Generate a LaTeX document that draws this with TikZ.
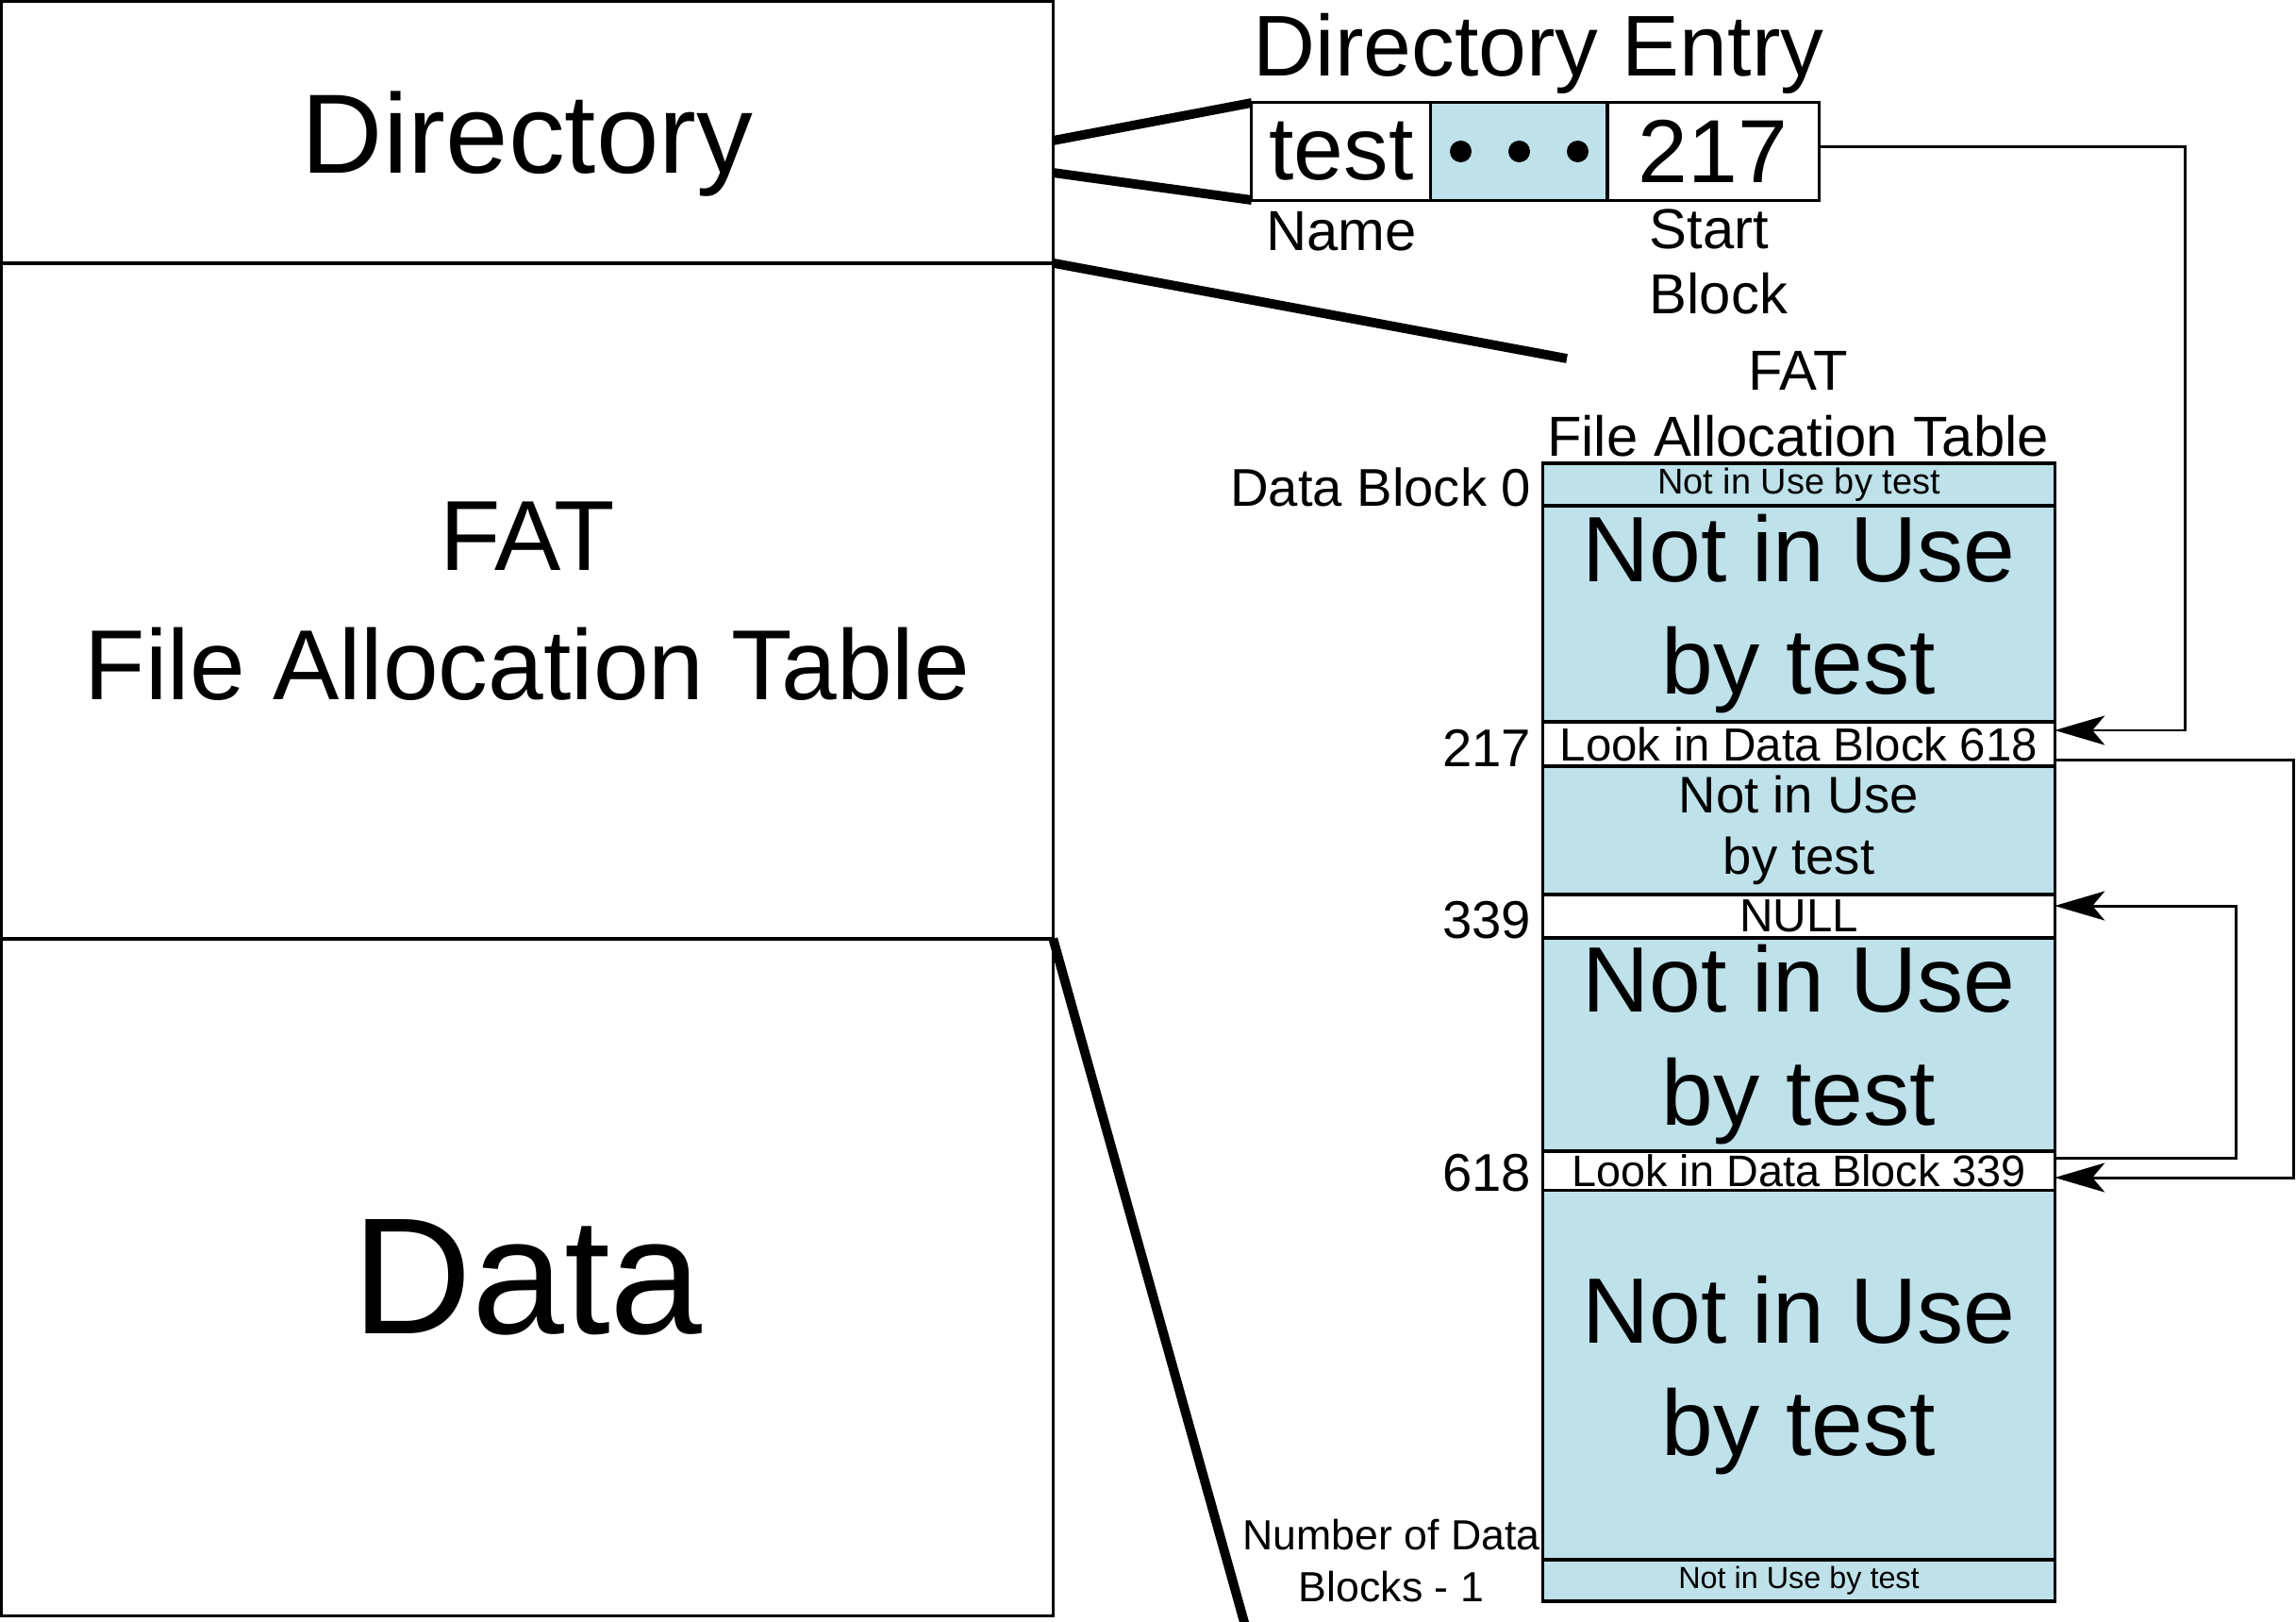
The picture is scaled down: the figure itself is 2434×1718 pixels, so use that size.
\documentclass[tikz,border=0pt]{standalone}
\usepackage{fontspec}
\setmainfont{Liberation Sans}
\usetikzlibrary{arrows.meta}
\definecolor{unused}{RGB}{190,225,234}

\begin{document}
\begin{tikzpicture}[x=0.01cm, y=-0.01cm,
		part/.style = {draw, line width=0.85pt, minimum width=11.14cm, inner sep=0pt, outer sep=0pt},
		cell/.style = {draw, line width=0.85pt, minimum height=1.03cm, inner sep=0pt, outer sep=0pt, font=\fontsize{27}{32}\selectfont},
		fatrow/.style = {draw, line width=0.9pt, minimum width=5.42cm, inner sep=0pt, outer sep=0pt},
		free/.style = {fatrow, fill=unused},
		used/.style = {fatrow, fill=white},
		big/.style = {align=center, font=\fontsize{28}{34}\selectfont},
		side/.style = {inner sep=0pt, font=\fontsize{17}{19.6}\selectfont},
		num/.style = {inner sep=0pt, anchor=base east, font=\fontsize{16}{19}\selectfont},
		zoomline/.style = {line width=2.8pt},
		flow/.style = {line width=0.85pt, -{Stealth[length=5.3mm, width=3.1mm, inset=1.3mm]}}]
		\useasboundingbox (0,0) rectangle (2434,1718);
		% disk layout
		\node[part, minimum height=2.77cm, text depth=0pt, font=\fontsize{34}{40}\selectfont] (dir) at (559,140.5) {Directory};
		\node[part, minimum height=7.16cm, align=center, font=\fontsize{30}{39}\selectfont] (fat) at (559,637) {FAT\\File Allocation Table};
		\node[part, minimum height=7.17cm, font=\fontsize{50}{60}\selectfont] (data) at (559,1353.5) {Data};
		% directory entry
		\node[side, anchor=base, font=\fontsize{26}{31}\selectfont] (entry) at (1631,80) {Directory Entry};
		\node[cell, minimum width=1.90cm] (name) at (1422,160.5) {test};
		\node[cell, minimum width=1.87cm, fill=unused] (dots) at (1610.5,160.5) {};
		\node[cell, minimum width=2.24cm] (startblk) at (1816,160.5) {217};
		\fill (dots.center) circle[radius=0.115cm] ++(-62,0) circle[radius=0.115cm] ++(124,0) circle[radius=0.115cm];
		\node[side, anchor=base] (namelbl) at (1422,265) {Name};
		\node[side, anchor=west, align=left] (startlbl) at (1748,277) {Start\\Block};
		\draw[zoomline] (dir.east) ++(0,8.5) -- (name.north west);
		\draw[zoomline] (dir.east) ++(0,42.5) -- (name.south west);
		% file allocation table
		\node[side, align=center, font=\fontsize{17}{19.9}\selectfont] (fattitle) at (1906,428) {FAT\\File Allocation Table};
		\draw[zoomline] (fat.north east) -- (1661,380);
		\node[free, minimum height=0.45cm, label={[font=\fontsize{10.8}{13}\selectfont]center:Not in Use by test}] (r0) at (1907,513.5) {};
		\node[free, minimum height=2.29cm, label={[big]center:{Not in Use\\by test}}] (r1) at (1907,650.5) {};
		\node[used, minimum height=0.47cm, label={[font=\fontsize{14}{17}\selectfont]center:Look in Data Block 618}] (r217) at (1907,788.5) {};
		\node[free, minimum height=1.36cm, label={[align=center, font=\fontsize{15.5}{18.5}\selectfont]center:{Not in Use\\by test}}] (r2) at (1907,880) {};
		\node[used, minimum height=0.46cm, label={[font=\fontsize{14}{17}\selectfont]center:NULL}] (r339) at (1907,971) {};
		\node[free, minimum height=2.26cm, label={[big]center:{Not in Use\\by test}}] (r3) at (1907,1107) {};
		\node[used, minimum height=0.42cm, label={[font=\fontsize{13.3}{16}\selectfont]center:Look in Data Block 339}] (r618) at (1907,1241) {};
		\node[free, minimum height=3.91cm, label={[big]center:{Not in Use\\by test}}] (r4) at (1907,1457.5) {};
		\node[free, minimum height=0.44cm, label={[font=\fontsize{9.2}{11}\selectfont]center:Not in Use by test}] (rlast) at (1907,1675) {};
		\node[num] (lbl0) at ([xshift=-1.2mm]r0.south west) {Data Block 0};
		\node[num] (lbl217) at ([xshift=-1.2mm]r217.south west) {217};
		\node[num] (lbl339) at ([xshift=-1.2mm]r339.south west) {339};
		\node[num] (lbl618) at ([xshift=-1.2mm]r618.south west) {618};
		\node[side, align=center, font=\fontsize{12.7}{15.6}\selectfont] (lastlbl) at (1475,1654) {Number of Data\\Blocks - 1};
		\draw[zoomline] (data.north east) -- (1322,1730);
		% block chain
		\draw[flow] ([yshift=0.5mm]startblk.east) -- ++(388,0) |- ([yshift=1.45mm]r217.east);
		\draw[flow] ([yshift=-1.65mm]r217.east) -- ++(253,0) |- ([yshift=-0.7mm]r618.east);
		\draw[flow] ([yshift=1.4mm]r618.east) -- ++(192,0) |- ([yshift=1.1mm]r339.east);
\end{tikzpicture}
\end{document}
